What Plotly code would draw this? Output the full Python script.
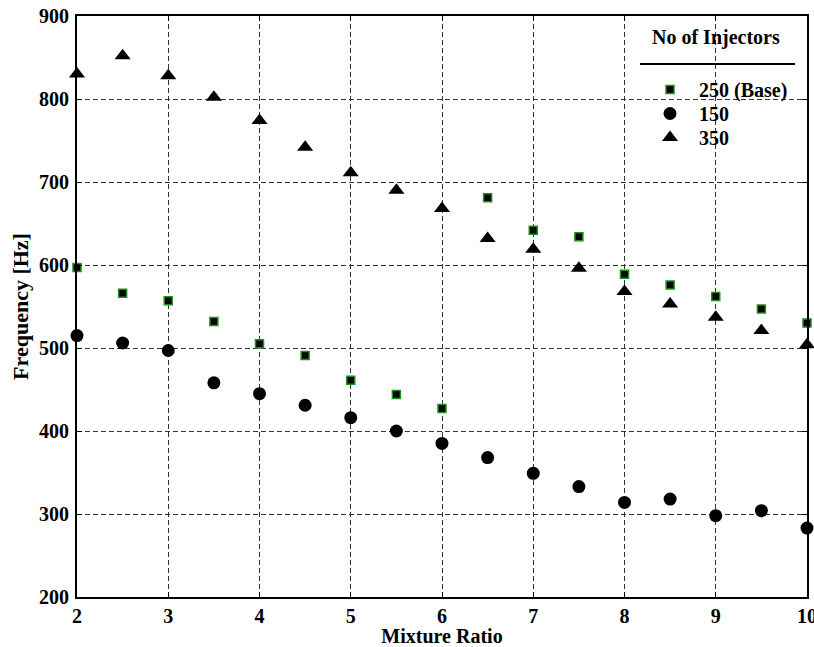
import plotly.graph_objects as go

# ---- data ----
mixture_ratio = [2, 2.5, 3, 3.5, 4, 4.5, 5, 5.5, 6, 6.5, 7, 7.5, 8, 8.5, 9, 9.5, 10]
freq_250 = [597, 566, 557, 532, 505, 491, 461, 444, 427, 681, 642, 634, 589, 576, 562, 547, 530]
freq_150 = [515, 506, 497, 458, 445, 431, 416, 400, 385, 368, 349, 333, 314, 318, 298, 304, 283]
freq_350 = [830, 852, 828, 802, 774, 742, 711, 690, 668, 632, 619, 596, 568, 553, 537, 521, 504]

series_names = ["250 (Base)", "150", "350"]
x_ticks = [2, 3, 4, 5, 6, 7, 8, 9, 10]
y_ticks = [200, 300, 400, 500, 600, 700, 800, 900]

FONT = "Liberation Serif, Times New Roman, serif"

fig = go.Figure()
fig.add_trace(go.Scatter(
    x=mixture_ratio, y=freq_250, mode="markers", name=series_names[0],
    marker=dict(symbol="square", size=8, color="black",
                line=dict(color="#1f8f1f", width=1.5)),
    cliponaxis=False, legend="legend"))
fig.add_trace(go.Scatter(
    x=mixture_ratio, y=freq_150, mode="markers", name=series_names[1],
    marker=dict(symbol="circle", size=13, color="black", line=dict(width=0)),
    cliponaxis=False, legend="legend2"))
fig.add_trace(go.Scatter(
    x=mixture_ratio, y=freq_350, mode="markers", name=series_names[2],
    marker=dict(symbol="triangle-up", size=14, color="black", line=dict(width=0)),
    cliponaxis=False, legend="legend3"))

L, R, T, B = 77, 7, 16, 50
W, H = 814, 647
pw, ph = W - L - R, H - T - B

def px(X):
    return (X - L) / pw

def py(Y):
    return 1 - (Y - T) / ph

axis_common = dict(
    automargin=False,
    showline=True, linecolor="black", linewidth=2, mirror="ticks",
    ticks="inside", ticklen=5, tickcolor="black", tickwidth=1,
    showgrid=True, gridcolor="#333333", gridwidth=1, griddash="5px,3px",
    zeroline=False, ticklabeloverflow="allow",
    tickfont=dict(family=FONT, size=20, color="black", weight="bold"),
)

fig.update_xaxes(range=[2, 10], tickvals=x_ticks, ticklabelstandoff=0, **axis_common,
                 title=dict(text="Mixture Ratio", standoff=4,
                            font=dict(family=FONT, size=20, color="black", weight="bold")))
fig.update_yaxes(range=[200, 900], tickvals=y_ticks, ticklabelstandoff=2, **axis_common,
                 title=dict(text="Frequency [Hz]", standoff=4,
                            font=dict(family=FONT, size=22, color="black", weight="bold")))

# legend background box (covers gridlines) and header
fig.add_shape(type="rect", xref="paper", yref="paper",
              x0=px(627), x1=px(797), y0=py(153), y1=py(70),
              fillcolor="white", line=dict(width=0), layer="between")
fig.add_shape(type="line", xref="paper", yref="paper",
              x0=px(640), x1=px(795), y0=py(64), y1=py(64),
              line=dict(color="black", width=2))
fig.add_annotation(text="No of Injectors", xref="paper", yref="paper",
                   x=px(716), y=py(37), xanchor="center", yanchor="middle",
                   showarrow=False,
                   font=dict(family=FONT, size=20, color="black", weight="bold"))

legend_font = dict(family=FONT, size=20, color="black", weight="bold")

def legend_at(top):
    return dict(x=px(641), y=py(top), xanchor="left", yanchor="top",
                bgcolor="rgba(0,0,0,0)", borderwidth=0,
                font=legend_font, itemwidth=48)

fig.update_layout(
    width=W, height=H,
    margin=dict(l=L, r=R, t=T, b=B, pad=0, autoexpand=False),
    paper_bgcolor="white", plot_bgcolor="white",
    showlegend=True,
    legend=legend_at(70),
    legend2=legend_at(94),
    legend3=legend_at(118),
)

fig.write_html("out.html", config={"displayModeBar": False},
               post_script="document.body.style.margin='0px';document.body.style.overflow='hidden';")
